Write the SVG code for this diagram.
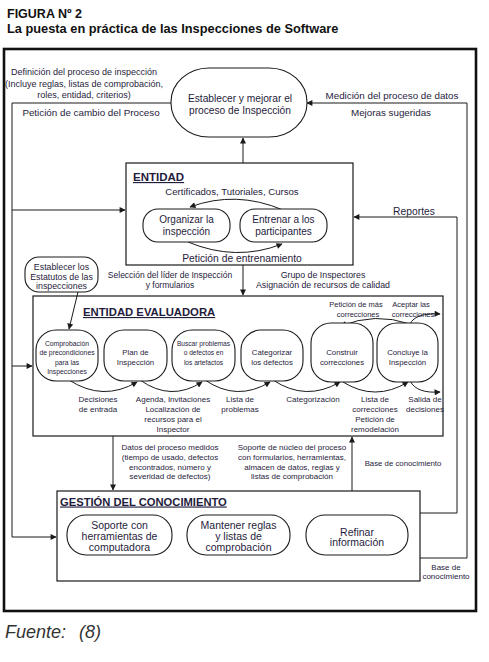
<svg xmlns="http://www.w3.org/2000/svg" width="489" height="662" viewBox="0 0 489 662">
<defs>
<marker id="ah" viewBox="0 0 10 10" refX="9" refY="5" markerWidth="7" markerHeight="6" markerUnits="userSpaceOnUse" orient="auto">
<path d="M0,0 L10,5 L0,10 z" fill="#1a1a1a"/>
</marker>
<style>
.t{font-family:"Liberation Sans",Arial,sans-serif;fill:#1f1c3c;text-anchor:middle}
.h{font-family:"Liberation Sans",Arial,sans-serif;fill:#1f1c3c;font-weight:bold;text-decoration:underline}
.box{fill:none;stroke:#1a1a1a;stroke-width:1.2}
.nd{fill:#fff;stroke:#1a1a1a;stroke-width:1.1}
.ln{fill:none;stroke:#1a1a1a;stroke-width:1}
.ar{fill:none;stroke:#1a1a1a;stroke-width:1;marker-end:url(#ah)}
</style>
</defs>
<rect width="489" height="662" fill="#fff"/>
<text x="7" y="18" font-family="Liberation Sans,Arial,sans-serif" font-weight="bold" font-size="12.5" fill="#111">FIGURA Nº 2</text>
<text x="7" y="33" font-family="Liberation Sans,Arial,sans-serif" font-weight="bold" font-size="12.8" fill="#111">La puesta en práctica de las Inspecciones de Software</text>
<rect x="4" y="49" width="472" height="562" fill="none" stroke="#111" stroke-width="2.6"/>

<g id="connectors">
<path class="ln" d="M171,103 H12 V537"/>
<path class="ar" d="M12,210 H125"/>
<path class="ar" d="M12,366 H32"/>
<path class="ar" d="M12,537 H56"/>
<path class="ar" d="M420,558 H467 V103 H307"/>
<path class="ar" d="M420,513 H457 V217 H354"/>
<path class="ar" d="M243,163 V138"/>
<path class="ar" d="M243,265 V295"/>
<path class="ar" d="M113,436 V490"/>
<path class="ar" d="M352,491 V437"/>
<path class="ar" d="M78,292 L69,329"/>
<path class="ar" d="M283,210 Q236,190 190,207"/>
<path class="ar" d="M188,242 Q236,262 282,244"/>
<path class="ar" d="M69,380 Q103,402 137,382"/>
<path class="ar" d="M140,380 Q171,402 202,382"/>
<path class="ar" d="M205,380 Q237,402 270,382"/>
<path class="ar" d="M273,380 Q306,402 340,382"/>
<path class="ar" d="M343,382 Q375,402 408,382"/>
<path class="ar" d="M410,381 C415,390 425,393 440,392"/>
<path class="ar" d="M410,324 Q375,312 341,326"/>
<path class="ar" d="M410,324 C414,316 424,313 440,314"/>
</g>

<g id="labels">
<text class="t" font-size="9" x="84" y="75">Definición del proceso de inspección</text>
<text class="t" font-size="9" x="84" y="87">(Incluye reglas, listas de comprobación,</text>
<text class="t" font-size="9" x="84" y="98">roles, entidad, criterios)</text>
<text class="t" font-size="9.8" x="91" y="115.5">Petición de cambio del Proceso</text>
<text class="t" font-size="9.8" x="392" y="98.5">Medición del proceso de datos</text>
<text class="t" font-size="9.8" x="391" y="115.5">Mejoras sugeridas</text>
<text class="t" font-size="10.3" x="414" y="214.5">Reportes</text>
<text class="t" font-size="8.5" x="170" y="278">Selección del líder de Inspección</text>
<text class="t" font-size="8.5" x="170" y="288">y formularios</text>
<text class="t" font-size="8.8" x="323" y="278">Grupo de Inspectores</text>
<text class="t" font-size="8.8" x="323" y="288">Asignación de recursos de calidad</text>
<text class="t" font-size="8" x="170" y="450">Datos del proceso medidos</text>
<text class="t" font-size="8" x="170" y="460">(tiempo de usado, defectos</text>
<text class="t" font-size="8" x="170" y="470">encontrados, número y</text>
<text class="t" font-size="8" x="170" y="479">severidad de defectos)</text>
<text class="t" font-size="8" x="292" y="450">Soporte de núcleo del proceso</text>
<text class="t" font-size="8" x="292" y="460">con formularios, herramientas,</text>
<text class="t" font-size="8" x="292" y="470">almacen de datos, reglas y</text>
<text class="t" font-size="8" x="292" y="479">listas de comprobación</text>
<text class="t" font-size="7.8" x="403" y="466">Base de conocimiento</text>
<text class="t" font-size="8" x="446" y="570">Base de</text>
<text class="t" font-size="8" x="446" y="579">conocimiento</text>
</g>

<g id="n-establecer">
<rect class="nd" x="171" y="68" width="136" height="69" rx="38" ry="34"/>
<text class="t" font-size="10.2" x="240" y="101.5">Establecer y mejorar el</text>
<text class="t" font-size="10.2" x="240" y="113.5">proceso de Inspección</text>
</g>

<g id="entidad">
<rect class="box" x="126" y="163" width="227" height="102"/>
<text class="h" font-size="11.5" x="133" y="181">ENTIDAD</text>
<text class="t" font-size="9.6" x="232" y="195">Certificados, Tutoriales, Cursos</text>
<text class="t" font-size="10.3" x="242" y="261.5">Petición de entrenamiento</text>
</g>
<g id="n-organizar">
<rect class="nd" x="143" y="209" width="87" height="33" rx="15"/>
<text class="t" font-size="10" x="186.5" y="222.5">Organizar la</text>
<text class="t" font-size="10" x="186.5" y="234.5">inspección</text>
</g>
<g id="n-entrenar">
<rect class="nd" x="240" y="209" width="87" height="33" rx="15"/>
<text class="t" font-size="10" x="283.5" y="222.5">Entrenar a los</text>
<text class="t" font-size="10" x="283.5" y="234.5">participantes</text>
</g>

<g id="n-estatutos">
<rect class="nd" x="25" y="257" width="73" height="35" rx="14"/>
<text class="t" font-size="8.8" x="61.5" y="270">Establecer los</text>
<text class="t" font-size="8.8" x="61.5" y="279.5">Estatutos de las</text>
<text class="t" font-size="8.8" x="61.5" y="289">inspecciones</text>
</g>

<g id="evaluadora">
<rect class="box" x="33" y="296" width="410" height="140"/>
<text class="h" font-size="11.3" x="83" y="316">ENTIDAD EVALUADORA</text>
<text class="t" font-size="7.5" x="356" y="306.5">Petición de más</text>
<text class="t" font-size="7.5" x="358" y="316.5">correcciones</text>
<text class="t" font-size="7.5" x="411" y="306.5">Aceptar las</text>
<text class="t" font-size="7.5" x="413" y="316.5">correcciones</text>
<text class="t" font-size="8" x="98" y="402">Decisiones</text>
<text class="t" font-size="8" x="98" y="412">de entrada</text>
<text class="t" font-size="8" x="173" y="402">Agenda, Invitaciones</text>
<text class="t" font-size="8" x="173" y="412">Localización de</text>
<text class="t" font-size="8" x="173" y="422">recursos para el</text>
<text class="t" font-size="8" x="173" y="432">Inspector</text>
<text class="t" font-size="8" x="240" y="402">Lista de</text>
<text class="t" font-size="8" x="240" y="412">problemas</text>
<text class="t" font-size="8" x="313" y="402">Categorización</text>
<text class="t" font-size="8" x="375" y="402">Lista de</text>
<text class="t" font-size="8" x="375" y="412">correcciones</text>
<text class="t" font-size="8" x="375" y="422">Petición de</text>
<text class="t" font-size="8" x="375" y="432">remodelación</text>
<text class="t" font-size="8" x="425" y="402">Salida de</text>
<text class="t" font-size="8" x="425" y="412">decisiones</text>
</g>
<g id="n-comprobacion">
<rect class="nd" x="36" y="330" width="62" height="51" rx="20"/>
<text class="t" font-size="6.8" x="67" y="345.5">Comprobación</text>
<text class="t" font-size="6.8" x="67" y="355">de precondiciones</text>
<text class="t" font-size="6.8" x="67" y="364.5">para las</text>
<text class="t" font-size="6.8" x="67" y="374">Inspecciones</text>
</g>
<g id="n-plan">
<rect class="nd" x="104" y="330" width="63" height="51" rx="20"/>
<text class="t" font-size="7.8" x="135.5" y="354.5">Plan de</text>
<text class="t" font-size="7.8" x="135.5" y="364.5">Inspección</text>
</g>
<g id="n-buscar">
<rect class="nd" x="172" y="330" width="63" height="51" rx="20"/>
<text class="t" font-size="6.6" x="203.5" y="345.5">Buscar problemas</text>
<text class="t" font-size="6.6" x="203.5" y="355">o defectos en</text>
<text class="t" font-size="6.6" x="203.5" y="364.5">los artefactos</text>
</g>
<g id="n-categorizar">
<rect class="nd" x="241" y="330" width="62" height="51" rx="20"/>
<text class="t" font-size="7.8" x="272" y="354.5">Categorizar</text>
<text class="t" font-size="7.8" x="272" y="364.5">los defectos</text>
</g>
<g id="n-construir">
<rect class="nd" x="311" y="323" width="62" height="59" rx="20"/>
<text class="t" font-size="7.8" x="342" y="354.5">Construir</text>
<text class="t" font-size="7.8" x="342" y="364.5">correcciones</text>
</g>
<g id="n-concluye">
<rect class="nd" x="377" y="323" width="61" height="59" rx="20"/>
<text class="t" font-size="7.8" x="407.5" y="354.5">Concluye la</text>
<text class="t" font-size="7.8" x="407.5" y="364.5">Inspección</text>
</g>

<g id="gestion">
<rect class="box" x="57" y="491" width="363" height="90"/>
<text class="h" font-size="11.2" x="60" y="505.5">GESTIÓN DEL CONOCIMIENTO</text>
</g>
<g id="n-soporte">
<rect class="nd" x="67" y="515" width="105" height="40" rx="19"/>
<text class="t" font-size="10.5" x="119.5" y="528.5">Soporte con</text>
<text class="t" font-size="10.5" x="119.5" y="539.5">herramientas de</text>
<text class="t" font-size="10.5" x="119.5" y="550.5">computadora</text>
</g>
<g id="n-mantener">
<rect class="nd" x="187" y="515" width="103" height="40" rx="19"/>
<text class="t" font-size="10.5" x="238.5" y="528.5">Mantener reglas</text>
<text class="t" font-size="10.5" x="238.5" y="539.5">y listas de</text>
<text class="t" font-size="10.5" x="238.5" y="550.5">comprobación</text>
</g>
<g id="n-refinar">
<rect class="nd" x="306" y="515" width="102" height="40" rx="19"/>
<text class="t" font-size="10.5" x="357" y="535.5">Refinar</text>
<text class="t" font-size="10.5" x="357" y="546">información</text>
</g>

<text x="5" y="638" font-family="Liberation Sans,Arial,sans-serif" font-style="italic" font-size="18" fill="#333">Fuente:</text>
<text x="79" y="638" font-family="Liberation Sans,Arial,sans-serif" font-style="italic" font-size="18" fill="#333">(8)</text>
</svg>
